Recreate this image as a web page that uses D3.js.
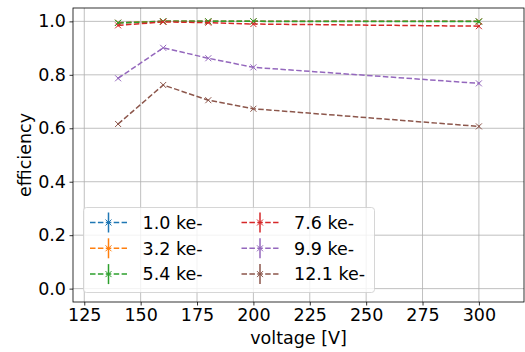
<!DOCTYPE html>
<html>
<head>
<meta charset="utf-8">
<script src="https://cdn.jsdelivr.net/npm/d3@7"></script>
<style>
  body { margin: 0; background: #fff; }
  svg text { font-family: "DejaVu Sans", sans-serif; fill: #000; }
</style>
</head>
<body>
<div id="chart"></div>
<script>
// data
const voltages = [140, 160, 180, 200, 300];
const labels = ["1.0 ke-", "3.2 ke-", "5.4 ke-", "7.6 ke-", "9.9 ke-", "12.1 ke-"];
const eff10 = [0.995, 1.0, 1.0, 1.0, 1.0];
const eff32 = [0.995, 1.0, 1.0, 1.0, 1.0];
const eff54 = [0.994, 1.0, 1.0, 1.0, 0.999];
const eff76 = [0.985, 0.998, 0.995, 0.99, 0.982];
const eff99 = [0.787, 0.901, 0.862, 0.828, 0.768];
const eff121 = [0.616, 0.762, 0.705, 0.673, 0.607];
const errs = [0.004, 0.002, 0.002, 0.003, 0.004];
const xTicks = [125, 150, 175, 200, 225, 250, 275, 300];
const yTicks = [0.0, 0.2, 0.4, 0.6, 0.8, 1.0];

const colors = ["#1f77b4", "#ff7f0e", "#2ca02c", "#d62728", "#9467bd", "#8c564b"];
const series = [eff10, eff32, eff54, eff76, eff99, eff121];
const fontSize = "17.5px";

const dimensions = { width: 525, height: 352, marginTop: 8, marginRight: 1, marginBottom: 50, marginLeft: 73 };
dimensions.boundedWidth = dimensions.width - dimensions.marginLeft - dimensions.marginRight;
dimensions.boundedHeight = dimensions.height - dimensions.marginTop - dimensions.marginBottom;

const wrapper = d3.select("#chart")
  .append("svg")
    .attr("width", dimensions.width)
    .attr("height", dimensions.height);

const bounds = wrapper.append("g")
  .attr("transform", `translate(${dimensions.marginLeft}, ${dimensions.marginTop})`);

// scales
const xScale = d3.scaleLinear().domain([120, 320]).range([0, dimensions.boundedWidth]);
const yScale = d3.scaleLinear().domain([-0.05, 1.05]).range([dimensions.boundedHeight, 0]);

// grid
bounds.append("g")
  .selectAll("line").data(xTicks).enter().append("line")
    .attr("x1", d => xScale(d)).attr("x2", d => xScale(d))
    .attr("y1", 0).attr("y2", dimensions.boundedHeight)
    .attr("stroke", "#b0b0b0").attr("stroke-width", 0.8);
bounds.append("g")
  .selectAll("line").data(yTicks).enter().append("line")
    .attr("y1", d => yScale(d)).attr("y2", d => yScale(d))
    .attr("x1", 0).attr("x2", dimensions.boundedWidth)
    .attr("stroke", "#b0b0b0").attr("stroke-width", 0.8);

// axes
const xAxis = bounds.append("g")
  .attr("transform", `translate(0, ${dimensions.boundedHeight})`)
  .call(d3.axisBottom(xScale).tickValues(xTicks).tickSize(3.5).tickPadding(3.5).tickFormat(d3.format("d")));
const yAxis = bounds.append("g")
  .call(d3.axisLeft(yScale).tickValues(yTicks).tickSize(3.5).tickPadding(3.5).tickFormat(d3.format(".1f")));
[xAxis, yAxis].forEach(a => {
  a.select(".domain").remove();
  a.selectAll(".tick line").attr("stroke", "#000").attr("stroke-width", 0.8);
  a.selectAll(".tick text").style("font-size", fontSize).style("font-family", "DejaVu Sans");
});

// lines
const lineGenerator = d3.line()
  .x((d, i) => xScale(voltages[i]))
  .y(d => yScale(d));

const lines = bounds.selectAll(".series")
  .data(series)
  .enter()
  .append("g")
    .attr("class", "series");

lines.append("path")
  .attr("d", d => lineGenerator(d))
  .attr("fill", "none")
  .attr("stroke", (d, i) => colors[i])
  .attr("stroke-width", 1.5)
  .attr("stroke-dasharray", "5.5,2.4");

// error bars + markers
lines.each(function(d, si) {
  const g = d3.select(this);
  g.selectAll(".err").data(d).enter().append("line")
    .attr("x1", (v, i) => xScale(voltages[i])).attr("x2", (v, i) => xScale(voltages[i]))
    .attr("y1", (v, i) => yScale(v - errs[i])).attr("y2", (v, i) => yScale(v + errs[i]))
    .attr("stroke", colors[si]).attr("stroke-width", 1.5);
  g.selectAll(".mk").data(d).enter().append("path")
    .attr("transform", (v, i) => `translate(${xScale(voltages[i])}, ${yScale(v)})`)
    .attr("d", "M-3,-3L3,3M-3,3L3,-3")
    .attr("stroke", colors[si]).attr("stroke-width", 1).attr("fill", "none");
});

// frame
bounds.append("rect")
  .attr("width", dimensions.boundedWidth).attr("height", dimensions.boundedHeight)
  .attr("fill", "none").attr("stroke", "#000").attr("stroke-width", 0.8);

// axis labels
wrapper.append("text")
  .attr("x", dimensions.marginLeft + dimensions.boundedWidth / 2)
  .attr("y", 344)
  .attr("text-anchor", "middle")
  .style("font-size", fontSize)
  .text("voltage [V]");
wrapper.append("text")
  .attr("transform", `translate(31, ${dimensions.marginTop + dimensions.boundedHeight / 2}) rotate(-90)`)
  .attr("text-anchor", "middle")
  .style("font-size", fontSize)
  .text("efficiency");

// legend
const legend = wrapper.append("g").attr("transform", "translate(83.5, 207.5)");
legend.append("rect")
  .attr("width", 291).attr("height", 85).attr("rx", 3)
  .attr("fill", "#fff").attr("fill-opacity", 0.8)
  .attr("stroke", "#cccccc").attr("stroke-width", 0.8);

const items = legend.selectAll(".item")
  .data(labels)
  .enter()
  .append("g")
    .attr("transform", (d, i) => `translate(${i < 3 ? 6.5 : 158}, ${15 + (i % 3) * 25.8})`);
items.append("line")
  .attr("x1", 0).attr("x2", 37)
  .attr("stroke", (d, i) => colors[i]).attr("stroke-width", 1.5)
  .attr("stroke-dasharray", "5.5,2.4");
items.append("line")
  .attr("x1", 18.5).attr("x2", 18.5).attr("y1", -10).attr("y2", 10)
  .attr("stroke", (d, i) => colors[i]).attr("stroke-width", 1.5);
items.append("path")
  .attr("transform", "translate(18.5, 0)")
  .attr("d", "M-3,-3L3,3M-3,3L3,-3")
  .attr("stroke", (d, i) => colors[i]).attr("stroke-width", 1);
items.append("text")
  .attr("x", 52.5).attr("dy", "0.36em")
  .style("font-size", fontSize)
  .text(d => d);
</script>
</body>
</html>
